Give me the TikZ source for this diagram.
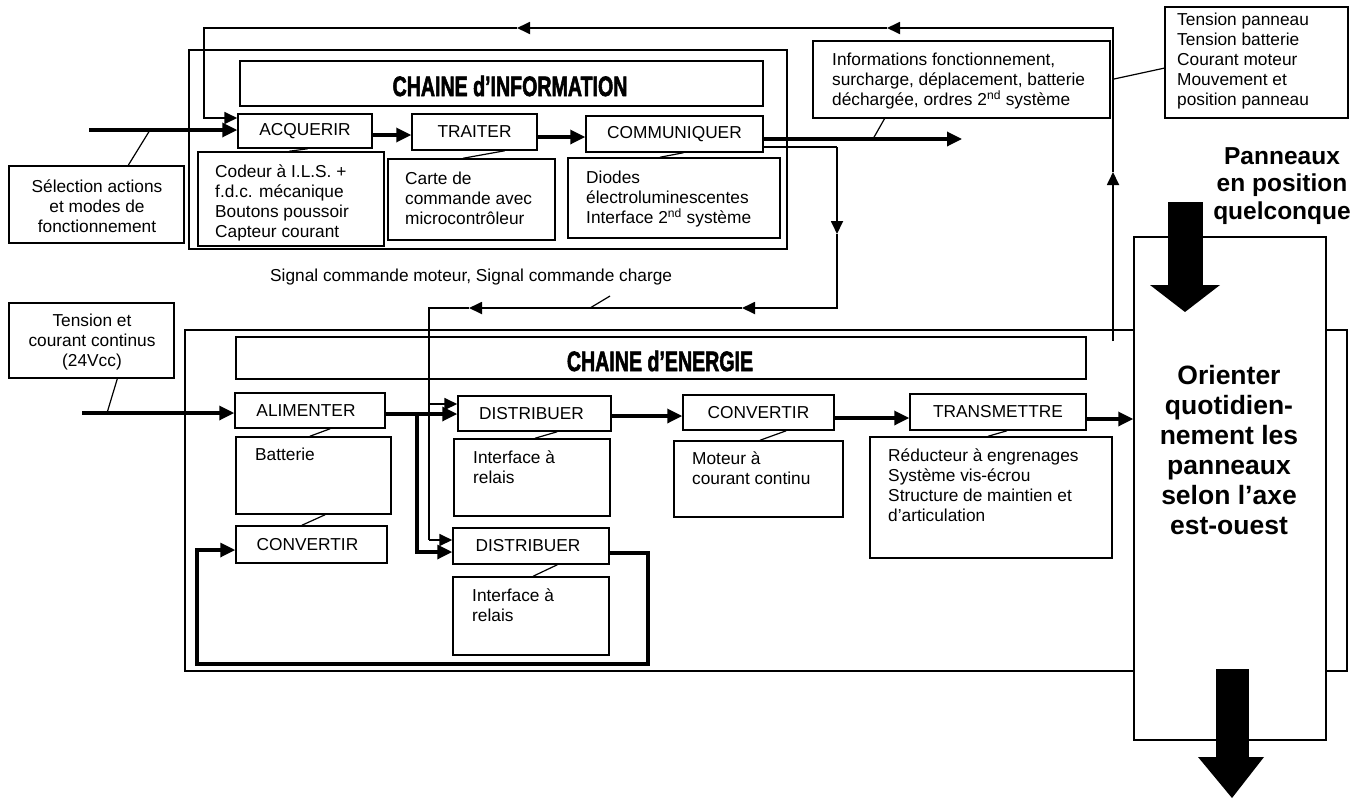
\documentclass[tikz,border=0pt]{standalone}
\usepackage{graphicx}
\usepackage{fontspec}
\setmainfont{Liberation Sans}
\newfontfamily\heavyfont[FakeBold=2.5]{Liberation Sans}
\usetikzlibrary{arrows.meta,fit,calc}
\newcommand\fs{\fontsize{17.3}{20}\selectfont}
\newcommand\fbig{\fontsize{26.5}{30}\selectfont\bfseries}
\newcommand\fpan{\fontsize{24.5}{27.5}\selectfont\bfseries}
\newcommand\chtitle[1]{\scalebox{0.7}[1]{\heavyfont\bfseries\fontsize{28}{30}\selectfont #1}}
\tikzset{
  bx/.style={draw, line width=1.5pt, inner sep=0pt},
  lbl/.style={inner sep=0pt, font=\fs},
  thk/.style={line width=3.3pt},
  thn/.style={line width=1.8pt},
  tk/.style={line width=1.2pt},
  tip/.style={-{Triangle[length=15pt,width=14pt]}},
  tipS/.style={-{Triangle[length=13pt,width=12pt]}},
  txt/.style={inner sep=0pt, align=left, font=\fs, anchor=north west},
}
\begin{document}
\begin{tikzpicture}[x=1pt,y=-1pt]
\useasboundingbox (0,0) rectangle (1367,798);

% ---------------- Chaine d'information ----------------
\node[bx, fit={(189,50) (787,249)}] (infoOuter) {};
\node[bx, fit={(240,61) (763,106)}] (infoTitle) {};
\node[inner sep=0pt] (infoTitleT) at (510,86) {\chtitle{CHAINE d’INFORMATION}};

\node[bx, fit={(238,114) (372,148)}] (acq) {};
\node[lbl] (acqT) at (acq.center) {ACQUERIR};
\node[bx, fit={(198,152) (384,246)}] (acqC) {};
\node[txt] (acqCt) at (215,165) {Codeur à I.L.S. +\\f.d.c. mécanique\\Boutons poussoir\\Capteur courant};

\node[bx, fit={(412,114) (537,150)}] (trt) {};
\node[lbl] (trtT) at (trt.center) {TRAITER};
\node[bx, fit={(388,159) (555,240)}] (trtC) {};
\node[txt] (trtCt) at (405,172) {Carte de\\commande avec\\microcontrôleur};

\node[bx, fit={(586,116) (763,152)}] (com) {};
\node[lbl] (comT) at (com.center) {COMMUNIQUER};
\node[bx, fit={(568,158) (780,238)}] (comC) {};
\node[txt] (comCt) at (586,171) {Diodes\\électroluminescentes\\Interface 2\textsuperscript{nd} système};

\draw[tk] ($(acq.south west)!0.52!(acq.south east)$) -- ($(acqC.north west)!0.49!(acqC.north east)$);
\draw[tk] ($(trt.south west)!0.74!(trt.south east)$) -- ($(trtC.north west)!0.45!(trtC.north east)$);
\draw[tk] ($(com.south west)!0.55!(com.south east)$) -- ($(comC.north west)!0.434!(comC.north east)$);

\draw[thk,tip] (acq.east |- 0,135) -- (trt.west |- 0,135);
\draw[thk,tip] (trt.east |- 0,137) -- (com.west |- 0,137);

% Selection input
\node[bx, fit={(9,166) (184,243)}] (sel) {};
\node[inner sep=0pt, align=center, font=\fs] (selT) at (97,206) {Sélection actions\\et modes de\\fonctionnement};
\coordinate (selIn) at (89,130);
\coordinate (selLd) at (150,130);
\draw[thk,tip] (selIn) -- (selIn -| acq.west);
\draw[tk] (selLd) -- ($(sel.north west)!0.68!(sel.north east)$);

% Information outputs
\node[bx, fit={(813,41) (1110,118)}] (info) {};
\node[txt] (infoT) at (832,53) {Informations fonctionnement,\\surcharge, déplacement, batterie\\déchargée, ordres 2\textsuperscript{nd} système};
\coordinate (comOut) at (962,139);
\coordinate (infLd) at (873,139);
\draw[thk,tip] (com.east |- comOut) -- (comOut);
\draw[tk] (infLd) -- ($(info.south west)!0.242!(info.south east)$);

% Feedback from sensors
\node[bx, fit={(1165,7) (1348,118)}] (tp) {};
\node[txt] (tpT) at (1177,13) {Tension panneau\\Tension batterie\\Courant moteur\\Mouvement et\\position panneau};
\coordinate (fbS) at (1113,341);
\coordinate (fbUp) at (1113,172);
\coordinate (fbTR) at (1113,28);
\coordinate (fbL1) at (887,28);
\coordinate (fbL2) at (517,28);
\coordinate (fbTL) at (204,28);
\coordinate (fbBL) at (204,118);
\coordinate (tpLd) at (1114,79);
\draw[thn,tipS] (fbS) -- (fbUp);
\draw[thn,tipS] (fbUp) -- (fbTR) -- (fbL1);
\draw[thn,tipS] (fbL1) -- (fbL2);
\draw[thn,tipS] (fbL2) -- (fbTL) -- (fbBL) -- (acq.west |- fbBL);
\draw[tk] (tpLd) -- ($(tp.north west)!0.55!(tp.south west)$);

% ---------------- Chaine d'energie ----------------
\node[bx, fit={(185,330) (1347,671)}] (enOuter) {};
\node[bx, fit={(236,337) (1086,379)}] (enTitle) {};
\node[inner sep=0pt] (enTitleT) at (660,361) {\chtitle{CHAINE d’ENERGIE}};

\node[bx, fit={(235,393) (385,428)}] (alim) {};
\node[lbl] (alimT) at ([xshift=-4pt]alim.center) {ALIMENTER};
\node[bx, fit={(236,437) (391,514)}] (batt) {};
\node[txt] (battT) at (255,448) {Batterie};
\node[bx, fit={(236,526) (387,563)}] (conv1) {};
\node[lbl] (conv1T) at ([xshift=-4pt]conv1.center) {CONVERTIR};

\node[bx, fit={(458,396) (611,431)}] (dist1) {};
\node[lbl] (dist1T) at ([xshift=-3pt]dist1.center) {DISTRIBUER};
\node[bx, fit={(454,439) (610,516)}] (rel1) {};
\node[txt] (rel1T) at (473,451) {Interface à\\relais};
\node[bx, fit={(453,528) (609,564)}] (dist2) {};
\node[lbl] (dist2T) at ([xshift=-3pt]dist2.center) {DISTRIBUER};
\node[bx, fit={(453,577) (609,655)}] (rel2) {};
\node[txt] (rel2T) at (472,589) {Interface à\\relais};

\node[bx, fit={(683,395) (834,430)}] (conv2) {};
\node[lbl] (conv2T) at (conv2.center) {CONVERTIR};
\node[bx, fit={(674,441) (843,517)}] (mot) {};
\node[txt] (motT) at (692,452) {Moteur à\\courant continu};

\node[bx, fit={(910,394) (1086,430)}] (trans) {};
\node[lbl] (transT) at (trans.center) {TRANSMETTRE};
\node[bx, fit={(870,437) (1112,558)}] (red) {};
\node[txt] (redT) at (888,449) {Réducteur à engrenages\\Système vis-écrou\\Structure de maintien et\\d’articulation};

\draw[tk] ($(alim.south west)!0.633!(alim.south east)$) -- ($(batt.north west)!0.477!(batt.north east)$);
\draw[tk] ($(batt.south west)!0.574!(batt.south east)$) -- ($(conv1.north west)!0.437!(conv1.north east)$);
\draw[tk] ($(dist1.south west)!0.647!(dist1.south east)$) -- ($(rel1.north west)!0.519!(rel1.north east)$);
\draw[tk] ($(dist2.south west)!0.667!(dist2.south east)$) -- ($(rel2.north west)!0.513!(rel2.north east)$);
\draw[tk] ($(conv2.south west)!0.682!(conv2.south east)$) -- ($(mot.north west)!0.509!(mot.north east)$);
\draw[tk] ($(trans.south west)!0.551!(trans.south east)$) -- ($(red.north west)!0.488!(red.north east)$);

% Energy input
\node[bx, fit={(9,303) (174,378)}] (tc) {};
\node[inner sep=0pt, align=center, font=\fs] (tcT) at (92,342) {Tension et\\courant continus\\(24Vcc)};
\coordinate (tcIn) at (82,413);
\coordinate (tcLd) at (107,413);
\draw[thk,tip] (tcIn) -- (tcIn -| alim.west);
\draw[tk] (tcLd) -- ($(tc.south west)!0.655!(tc.south east)$);

% Signal commande
\coordinate (sg1) at (837,147);
\coordinate (sgDn) at (837,234);
\coordinate (sg2) at (837,308);
\coordinate (sgL1) at (742,308);
\coordinate (sgL2) at (469,308);
\coordinate (sg3) at (429,308);
\coordinate (sgB) at (429,404);
\coordinate (sg4) at (429,540);
\draw[thn] (com.east |- sg1) -- (sg1);
\draw[thn,tipS] (sg1) -- (sgDn);
\draw[thn,tipS] (sgDn) -- (sg2) -- (sgL1);
\draw[thn,tipS] (sgL1) -- (sgL2);
\draw[thn] (sgL2) -- (sg3) -- (sg4);
\draw[thn,tipS] (sg4) -- (sg4 -| dist2.west);
\draw[thn,tipS] (sgB) -- (sgB -| dist1.west);
\node[inner sep=0pt, anchor=west, font=\fs] (sgT) at (270,277) {Signal commande moteur, Signal commande charge};
\coordinate (sgLd) at (590,308);
\draw[tk] (sgLd) -- ++(20,-12);

% Energy flow
\coordinate (br1) at (417,414);
\coordinate (br2) at (417,552);
\draw[thk,tip] (alim.east |- br1) -- (dist1.west |- br1);
\draw[thk,tip] (br1) -- (br2) -- (dist2.west |- br2);
\draw[thk,tip] (dist1.east |- 0,416) -- (conv2.west |- 0,416);
\draw[thk,tip] (conv2.east |- 0,418) -- (trans.west |- 0,418);

% Loop back to convertir
\coordinate (lp1) at (648,553);
\coordinate (lp2) at (648,664);
\coordinate (lp3) at (197,664);
\coordinate (lp4) at (197,550);
\draw[thk,tip] (dist2.east |- lp1) -- (lp1) -- (lp2) -- (lp3) -- (lp4) -- (conv1.west |- lp4);

% ---------------- Fonction globale ----------------
\node[bx, fill=white, fit={(1134,237) (1326,740)}] (orient) {};
\node[inner sep=0pt, align=center, font=\fbig] (orientT) at (1229,450) {Orienter\\quotidien-\\nement les\\panneaux\\selon l’axe\\est-ouest};
\draw[thk,tip] (trans.east |- 0,419) -- (orient.west |- 0,419);

\node[inner sep=0pt, align=center, font=\fpan] (panT) at (1282,186) {Panneaux\\en position\\quelconque};

% Big black arrows (matter in / out)
\fill (1168,202) rectangle (1203,286);
\fill (1150,285) -- (1220,285) -- (1185,312) -- cycle;
\fill (1216,669) rectangle (1249,758);
\fill (1198,757) -- (1264,757) -- (1232,798) -- cycle;
\end{tikzpicture}
\end{document}
